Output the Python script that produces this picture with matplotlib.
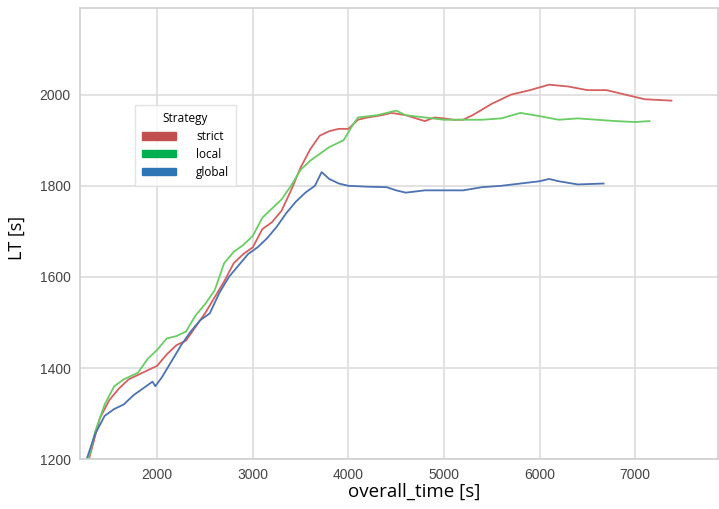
import matplotlib
matplotlib.use("Agg")
import matplotlib.pyplot as plt
from matplotlib.patches import Patch

# strict strategy
strict_t = [1280, 1400, 1500, 1600, 1700, 1800, 1900, 2000, 2100, 2200, 2300, 2400, 2500,
            2600, 2700, 2800, 2900, 3000, 3100, 3200, 3300, 3400, 3500, 3600, 3700, 3800,
            3900, 4000, 4100, 4200, 4350, 4450, 4600, 4800, 4900, 5000, 5100, 5200, 5300,
            5500, 5700, 5900, 6100, 6300, 6500, 6700, 6900, 7100, 7380]
strict_lt = [1195, 1290, 1330, 1355, 1375, 1385, 1395, 1405, 1430, 1450, 1460, 1490, 1520,
             1555, 1590, 1630, 1650, 1665, 1705, 1720, 1745, 1790, 1840, 1880, 1910, 1920,
             1925, 1925, 1945, 1950, 1955, 1960, 1955, 1942, 1950, 1948, 1945, 1945, 1955,
             1980, 2000, 2010, 2022, 2018, 2010, 2010, 2000, 1990, 1987]

# local strategy
local_t = [1280, 1350, 1450, 1550, 1650, 1800, 1900, 2000, 2100, 2200, 2300, 2400, 2500,
           2600, 2700, 2800, 2900, 3000, 3100, 3200, 3300, 3400, 3500, 3600, 3700, 3800,
           3950, 4050, 4100, 4300, 4400, 4500, 4600, 4800, 5000, 5200, 5400, 5600, 5800,
           6000, 6200, 6400, 6600, 6800, 7000, 7150]
local_lt = [1200, 1260, 1320, 1360, 1375, 1390, 1420, 1440, 1465, 1470, 1480, 1515, 1540,
            1570, 1630, 1655, 1670, 1690, 1730, 1750, 1770, 1800, 1835, 1855, 1870, 1885,
            1900, 1935, 1950, 1955, 1960, 1965, 1955, 1950, 1945, 1945, 1945, 1948, 1960,
            1953, 1945, 1948, 1945, 1942, 1940, 1942]

# global strategy
global_t = [1250, 1270, 1350, 1450, 1550, 1650, 1750, 1850, 1950, 1980, 2050, 2150, 2250,
            2350, 2450, 2550, 2650, 2750, 2850, 2950, 3050, 3150, 3250, 3350, 3450, 3550,
            3650, 3720, 3800, 3900, 4000, 4200, 4400, 4500, 4600, 4800, 5000, 5200, 5400,
            5600, 5800, 6000, 6100, 6200, 6400, 6670]
global_lt = [1190, 1205, 1255, 1295, 1310, 1320, 1340, 1355, 1370, 1360, 1380, 1415, 1450,
             1480, 1505, 1520, 1565, 1600, 1625, 1650, 1665, 1685, 1710, 1740, 1765, 1785,
             1800, 1830, 1815, 1805, 1800, 1798, 1797, 1790, 1785, 1790, 1790, 1790, 1797,
             1800, 1805, 1810, 1815, 1810, 1803, 1805]

strategies = ["strict", "local", "global"]
line_colors = ["#D65F5F", "#6ACC65", "#4C72B0"]
legend_colors = ["#C0504D", "#00B050", "#2E75B6"]

fig = plt.figure(figsize=(7.19, 5.09), dpi=100)
ax = fig.add_axes([0.111, 0.098, 0.888, 0.886])

for t, lt, c in zip([strict_t, local_t, global_t], [strict_lt, local_lt, global_lt], line_colors):
    ax.plot(t, lt, color=c, linewidth=1.3)

ax.set_xlim(1190, 7870)
ax.set_ylim(1200, 2190)
ax.set_xticks([2000, 3000, 4000, 5000, 6000, 7000])
ax.set_yticks([1200, 1400, 1600, 1800, 2000])
ax.grid(True, color="#DDDDDD", linewidth=1.2)
ax.set_axisbelow(True)
for s in ax.spines.values():
    s.set_color("#D0D0D0")
    s.set_linewidth(1.2)
ax.tick_params(length=0, labelsize=10, labelcolor="#444444", pad=6.5)
for lab in ax.get_xticklabels() + ax.get_yticklabels():
    lab.set_family("Liberation Sans")

ax.set_xlabel("overall_time [s]", fontsize=13.5, family="Open Sans", labelpad=0)
ax.xaxis.set_label_coords(0.524, -0.052, transform=ax.transAxes)
ax.xaxis.label.set_va("top")
ax.set_ylabel("LT [s]", fontsize=13, family="Open Sans")
ax.yaxis.set_label_coords(-0.084, 0.49, transform=ax.transAxes)

handles = [Patch(color=c, label=n) for c, n in zip(legend_colors, strategies)]
leg = ax.legend(handles=handles, title="Strategy", loc="upper left",
                bbox_to_anchor=(0.086, 0.785), borderaxespad=0,
                prop={"family": "Open Sans", "size": 8.5},
                handlelength=2.9, handleheight=0.55, handletextpad=1.7,
                frameon=True, fancybox=False, edgecolor="#DDDDDD",
                borderpad=0.6, labelspacing=0.42)
leg.get_title().set_fontfamily("Open Sans")
leg.get_title().set_fontsize(8.5)
leg.get_frame().set_linewidth(1.0)

fig.savefig("out.png", dpi=100)
